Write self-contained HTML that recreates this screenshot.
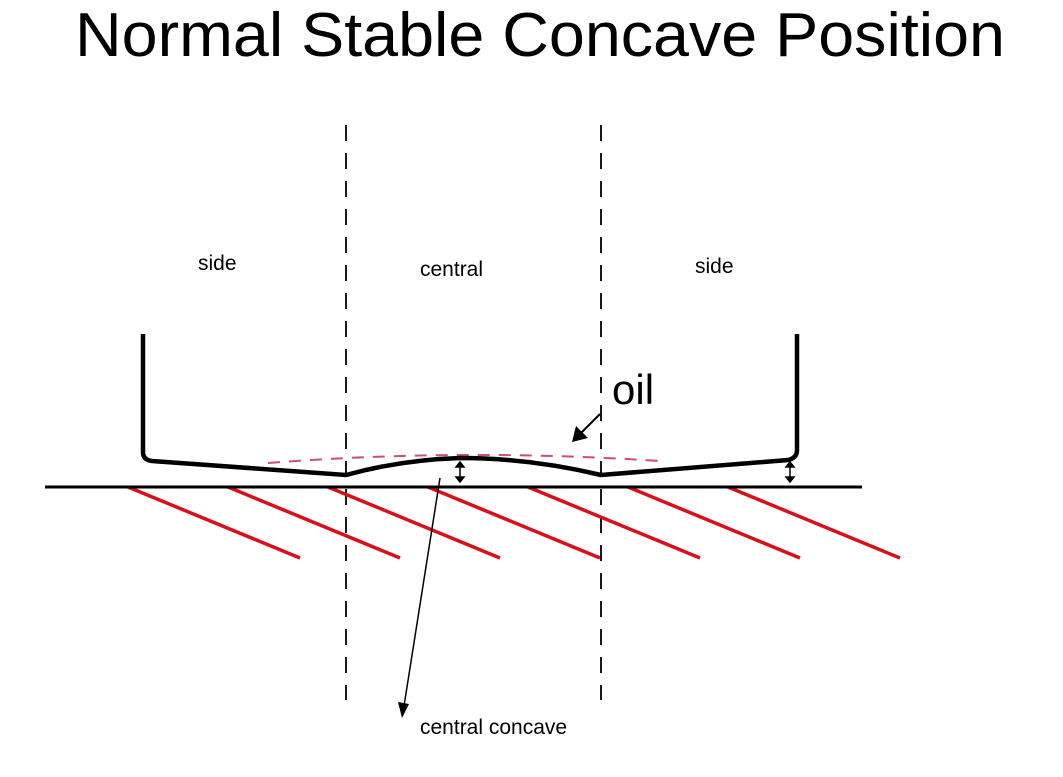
<!DOCTYPE html>
<html><head><style>html,body{margin:0;padding:0;background:#fff;}svg{display:block}</style></head>
<body>
<svg width="1063" height="777" viewBox="0 0 1063 777" xmlns="http://www.w3.org/2000/svg" font-family="Liberation Sans, sans-serif">
<text x="75" y="56" font-size="62" textLength="930" lengthAdjust="spacingAndGlyphs" fill="#000">Normal Stable Concave  Position</text>
<g stroke="#000" stroke-width="1.8" stroke-dasharray="16,12">
<line x1="346" y1="125" x2="346" y2="700"/>
<line x1="601" y1="125" x2="601" y2="700"/>
</g>
<text x="198" y="270" font-size="21">side</text>
<text x="420" y="276" font-size="21">central</text>
<text x="695" y="273" font-size="21">side</text>
<g stroke="#d8101e" stroke-width="3.5">
<line x1="128" y1="487" x2="300" y2="558"/>
<line x1="228" y1="487" x2="400" y2="558"/>
<line x1="328" y1="487" x2="500" y2="558"/>
<line x1="428" y1="487" x2="600" y2="558"/>
<line x1="528" y1="487" x2="700" y2="558"/>
<line x1="628" y1="487" x2="800" y2="558"/>
<line x1="728" y1="487" x2="900" y2="558"/>
</g>
<line x1="45" y1="487" x2="862" y2="487" stroke="#000" stroke-width="3"/>
<path d="M268,463 Q460,448 660,461" fill="none" stroke="#c8507a" stroke-width="2" stroke-dasharray="12,9"/>
<path d="M143,334 L143,452 Q143,460 152,461 L346,475 Q400,460 460,458 Q530,458 601,475 L788,460 Q797,458 797,450 L797,334" fill="none" stroke="#000" stroke-width="4.5"/>
<g stroke="#000" stroke-width="1.5" fill="#000">
<line x1="460" y1="464" x2="460" y2="480"/>
<path d="M456,467 L460,462 L464,467Z M456,477 L460,482 L464,477Z"/>
<line x1="790" y1="464" x2="790" y2="480"/>
<path d="M786,467 L790,462 L794,467Z M786,477 L790,482 L794,477Z"/>
</g>
<text x="612" y="404" font-size="42">oil</text>
<line x1="600" y1="414" x2="580" y2="434" stroke="#000" stroke-width="2"/>
<path d="M572,442 L576,426 L588,438Z" fill="#000"/>
<line x1="440" y1="478" x2="404" y2="706" stroke="#000" stroke-width="1.5"/>
<path d="M402,718 L398,702 L409,704Z" fill="#000"/>
<text x="420" y="734" font-size="21">central concave</text>
</svg>
</body></html>
